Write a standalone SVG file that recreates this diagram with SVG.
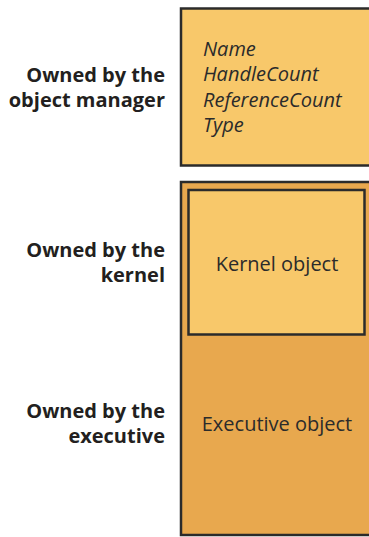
<svg xmlns="http://www.w3.org/2000/svg" width="369" height="537" viewBox="0 0 369 537">
<style>
.box{stroke:#2b2b2b;stroke-width:2.5}
.light{fill:#F8C86A}
.dark{fill:#E8A84E}
.fld{font-family:"Open Sans","Noto Sans",sans-serif;font-style:italic;font-size:20px;fill:#2b2b2b}
.lbl{font-family:"Open Sans","Noto Sans",sans-serif;font-size:20px;fill:#2b2b2b}
.own{font-family:"Open Sans","Noto Sans",sans-serif;font-weight:bold;font-size:20px;fill:#231f20;text-anchor:end}
</style>
<rect width="369" height="537" fill="#ffffff"/>
<g id="header">
<rect class="box light" x="181" y="8.5" width="200" height="157"/>
<text class="fld" x="203" y="56">Name</text>
<text class="fld" x="203" y="81">HandleCount</text>
<text class="fld" x="203" y="107">ReferenceCount</text>
<text class="fld" x="203" y="132">Type</text>
</g>
<g id="executive">
<rect class="box dark" x="181" y="182" width="200" height="353"/>
<text class="lbl" x="277" y="431" text-anchor="middle">Executive object</text>
</g>
<g id="kernel">
<rect class="box light" x="188.5" y="190" width="176" height="144.5"/>
<text class="lbl" x="277" y="271" text-anchor="middle">Kernel object</text>
</g>
<g id="labels">
<text class="own" x="165" y="82">Owned by the</text>
<text class="own" x="165" y="107">object manager</text>
<text class="own" x="165" y="257">Owned by the</text>
<text class="own" x="165" y="282">kernel</text>
<text class="own" x="165" y="418">Owned by the</text>
<text class="own" x="165" y="443">executive</text>
</g>
<g id="connectors"></g>
</svg>
